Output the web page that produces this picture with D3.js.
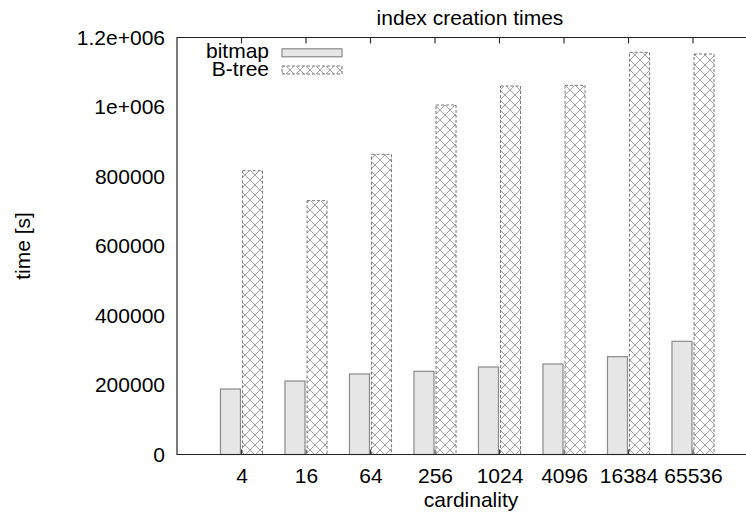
<!DOCTYPE html>
<html><head><meta charset="utf-8">
<script src="https://cdn.jsdelivr.net/npm/d3@7/dist/d3.min.js"></script>
<style>
html,body{margin:0;padding:0;background:#fff;}
svg text{font-family:"Liberation Sans",Arial,Helvetica,sans-serif;fill:#000;}
</style></head>
<body>
<svg id="c" width="746" height="514"></svg>
<script>
const categories = ["4","16","64","256","1024","4096","16384","65536"];
const bitmapValues = [188500, 211500, 231700, 239400, 251800, 260500, 281500, 325800];
const btreeValues = [816700, 730400, 863900, 1005800, 1060400, 1062400, 1157400, 1152500];
const yTickValues = [0, 200000, 400000, 600000, 800000, 1000000, 1200000];
const yTickLabels = ["0","200000","400000","600000","800000","1e+006","1.2e+006"];
const seriesNames = ["bitmap","B-tree"];

(function(){
const svg = d3.select("#c");
const pL = 177, pT = 37.5, pB = 454.5, pR = 177 + 9*64.5;
const x = d3.scaleLinear().domain([0, 9]).range([pL, pR]);
const y = d3.scaleLinear().domain([0, 1200000]).range([pB, pT]);

const defs = svg.append("defs");
const pat = defs.append("pattern").attr("id","hatch").attr("patternUnits","userSpaceOnUse")
  .attr("width",10).attr("height",10);
pat.append("rect").attr("width",10).attr("height",10).attr("fill","#fff");
pat.append("path").attr("d","M0,0L10,10M10,0L0,10").attr("stroke","#9a9a9a").attr("stroke-width",0.9).attr("fill","none");

const fs = 21;
svg.append("text").attr("x", 470).attr("y", 25).attr("text-anchor","middle").attr("font-size",fs).text("index creation times");
svg.append("text").attr("transform","translate(29.5,246) rotate(-90)").attr("text-anchor","middle").attr("font-size",fs).text("time [s]");
svg.append("text").attr("x", 471).attr("y", 507).attr("text-anchor","middle").attr("font-size",fs).text("cardinality");

const yAxis = d3.axisLeft(y).tickValues(yTickValues).tickFormat((d,i)=>yTickLabels[i]).tickSize(0).tickPadding(12);
const ga = svg.append("g").attr("transform",`translate(${pL},0)`).call(yAxis);
ga.select(".domain").remove();
ga.attr("font-family",null).attr("font-size",null);
ga.selectAll("text").attr("font-size",fs);

const xAxis = d3.axisBottom(x).tickValues(d3.range(1,9)).tickFormat((d)=>categories[d-1]).tickSize(0).tickPadding(14);
const gx = svg.append("g").attr("transform",`translate(0,${pB})`).call(xAxis);
gx.select(".domain").remove();
gx.attr("font-family",null).attr("font-size",null);
gx.selectAll("text").attr("font-size",fs);

const ticks = svg.append("g").attr("stroke","#333").attr("stroke-width",1.2);
d3.range(1,9).forEach(i=>{
  ticks.append("line").attr("x1",x(i)).attr("x2",x(i)).attr("y1",pT).attr("y2",pT+6);
  ticks.append("line").attr("x1",x(i)).attr("x2",x(i)).attr("y1",pB).attr("y2",pB-5);
});

const bw = 0.31, gap = 0.016;
svg.append("g").selectAll("rect").data(bitmapValues).join("rect")
  .attr("x",(d,i)=>x(i+1-gap-bw)).attr("width",x(bw)-x(0))
  .attr("y",d=>y(d)).attr("height",d=>y(0)-y(d))
  .attr("fill","#e6e6e6").attr("stroke","#8a8a8a").attr("stroke-width",1.2);
svg.append("g").selectAll("rect").data(btreeValues).join("rect")
  .attr("x",(d,i)=>x(i+1+gap)).attr("width",x(bw)-x(0))
  .attr("y",d=>y(d)).attr("height",d=>y(0)-y(d))
  .attr("fill","url(#hatch)").attr("stroke","#777").attr("stroke-width",1).attr("stroke-dasharray","3,2");

svg.append("path").attr("d",`M${pR},${pT}H${pL}V${pB}H${pR}`).attr("fill","none").attr("stroke","#222").attr("stroke-width",1.2);

const leg = svg.append("g");
const legY = [52.8, 70];
leg.append("text").attr("x",269).attr("y",58).attr("text-anchor","end").attr("font-size",fs).text(seriesNames[0]);
leg.append("text").attr("x",269).attr("y",76).attr("text-anchor","end").attr("font-size",fs).text(seriesNames[1]);
leg.append("rect").attr("x",282).attr("y",legY[0]-4).attr("width",60).attr("height",8)
  .attr("fill","#e6e6e6").attr("stroke","#8a8a8a").attr("stroke-width",1.2);
leg.append("rect").attr("x",282).attr("y",legY[1]-4).attr("width",60).attr("height",8)
  .attr("fill","url(#hatch)").attr("stroke","#777").attr("stroke-width",1).attr("stroke-dasharray","3,2");
})();
</script>
</body></html>
